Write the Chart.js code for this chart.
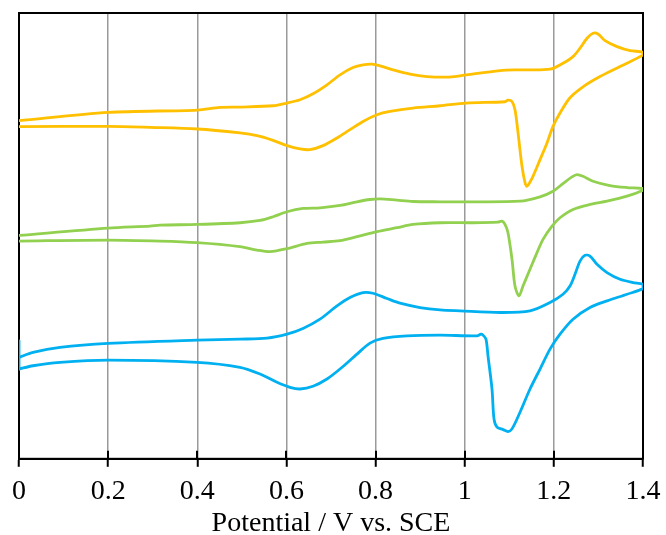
<!DOCTYPE html>
<html>
<head>
<meta charset="utf-8">
<script src="https://cdn.jsdelivr.net/npm/chart.js@4.4.0/dist/chart.umd.min.js"></script>
<style>
  html, body { margin: 0; padding: 0; background: #fff; }
  #wrap { width: 666px; height: 535px; }
</style>
</head>
<body>
<div id="wrap"><canvas id="c" width="666" height="535"></canvas></div>
<script>
// Potential (V vs. SCE) and current (arbitrary units); each loop: forward scan then reverse scan
const yellowV = [0, 0.2, 0.4, 0.451, 0.4958, 0.5699, 0.6013, 0.6305, 0.6596, 0.691, 0.7202, 0.7494, 0.7718, 0.792, 0.8099, 0.8391, 0.8773, 0.9154, 0.9603, 0.9894, 1.079, 1.124, 1.1914, 1.2205, 1.243, 1.2587, 1.2744, 1.2878, 1.299, 1.3148, 1.3417, 1.3708, 1.4,
                 1.4, 1.3484, 1.3035, 1.2654, 1.2362, 1.2138, 1.1981, 1.1846, 1.169, 1.1532, 1.1398, 1.1353, 1.1285, 1.1196, 1.1128, 1.1061, 1.0971, 1.0904, 1.003, 0.9446, 0.884, 0.8324, 0.8032, 0.7718, 0.7426, 0.7135, 0.6821, 0.6529, 0.6305, 0.6013, 0.5699, 0.534, 0.4958, 0.4, 0.294, 0.2, 0];
const yellowI = [339, 347.3, 349.7, 352.3, 352.7, 354, 356.7, 360, 366, 375, 385, 392.3, 395, 395.7, 394, 390, 385.7, 383.3, 382.7, 384, 389.3, 390, 390.7, 396.7, 403.3, 411.7, 421.7, 426.7, 426, 419.3, 413.3, 409.3, 407.7,
                 405, 393.3, 383.3, 373, 362, 346.7, 333.3, 316.7, 300, 283.3, 273.3, 277, 293.3, 327, 350, 358.3, 359.7, 358, 356.7, 354, 351.7, 348.3, 345, 338.3, 330, 321.7, 314, 310, 310.7, 314, 319.3, 324, 326.7, 330.7, 332.3, 333.3, 333];

const greenV = [0, 0.2, 0.294, 0.316, 0.4, 0.4958, 0.5407, 0.5699, 0.6013, 0.6372, 0.6753, 0.7202, 0.7583, 0.7875, 0.8099, 0.8481, 0.884, 0.9446, 0.9894, 1.1241, 1.169, 1.1981, 1.2205, 1.2407, 1.2519, 1.2654, 1.2878, 1.3259, 1.3641, 1.4,
                1.4, 1.3641, 1.3192, 1.2811, 1.243, 1.2138, 1.1959, 1.1757, 1.1622, 1.1465, 1.1308, 1.1218, 1.1128, 1.1061, 1.0971, 1.0904, 1.0836, 1.0746, 1.0186, 0.9446, 0.884, 0.8481, 0.8032, 0.7583, 0.7202, 0.6821, 0.6462, 0.6013, 0.5632, 0.534, 0.4958, 0.4, 0.316, 0.2, 0];
const greenI = [224, 231.3, 233.3, 234.3, 235, 236.7, 239, 242.7, 247.7, 251, 251.7, 254, 257.7, 260, 260.7, 259.3, 258, 257.7, 257.7, 258.3, 262.7, 268.3, 276, 282.7, 285, 283.3, 278.3, 274, 272, 271,
                269.3, 263.3, 258.3, 255, 250, 241.7, 233.3, 220, 206.7, 190, 173.3, 163.3, 173.3, 200, 226.7, 235, 238.3, 237.3, 236.7, 236.7, 235, 231.7, 227.7, 222.7, 218.7, 217.3, 216, 210.7, 207.7, 209.3, 212.7, 216.7, 218.3, 219.3, 218.3];

const blueV = [0, 0.0314, 0.092, 0.2, 0.4, 0.4958, 0.5564, 0.6013, 0.6372, 0.6753, 0.7135, 0.7426, 0.7718, 0.7942, 0.8257, 0.8548, 0.8997, 0.9446, 0.9894, 1.0792, 1.1465, 1.1914, 1.2205, 1.2362, 1.2474, 1.2587, 1.2699, 1.2811, 1.2968, 1.3192, 1.3484, 1.3776, 1.4,
               1.4, 1.3641, 1.3192, 1.2811, 1.243, 1.2138, 1.1914, 1.169, 1.1465, 1.1241, 1.1061, 1.0971, 1.0859, 1.0724, 1.0657, 1.0612, 1.0522, 1.0477, 1.041, 1.0366, 1.0276, 0.9446, 0.8705, 0.8167, 0.7875, 0.7583, 0.7202, 0.691, 0.6596, 0.6305, 0.608, 0.5789, 0.5407, 0.4958, 0.4, 0.2, 0.092, 0.0314, 0];
const blueI = [101.7, 106.7, 111.7, 115.7, 119, 120, 121, 125, 130.7, 140, 153.3, 161.7, 166.7, 166, 160.7, 156, 151.7, 149.3, 148.3, 146.7, 148.3, 156.7, 165, 173.3, 185, 198.3, 204, 203.3, 195, 186.7, 180, 176.7, 175,
               170.7, 165, 158.3, 151.7, 140, 125, 110, 90, 70, 46.7, 30, 27.3, 29.3, 31.7, 40, 70, 103.3, 120, 124, 125, 123.3, 124, 123.3, 120.7, 116, 105, 90, 80, 72.7, 70, 71.7, 76.7, 85, 91.7, 96.7, 99, 96.7, 93.3, 90];
// initial potential step of the blue trace at 0 V
const blueStepV = [0, 0];
const blueStepI = [90, 118.3];

const xTickLabels = ['0', '0.2', '0.4', '0.6', '0.8', '1', '1.2', '1.4'];
const xTitle = 'Potential / V vs. SCE';

function pts(v, i) { return v.map((x, k) => ({ x: x, y: i[k] })); }

const serif = "'Liberation Serif', 'Times New Roman', 'DejaVu Serif', serif";

const frame = {
  id: 'frame',
  beforeDatasetsDraw(chart) {
    const { ctx, chartArea: a, scales } = chart;
    ctx.save();
    ctx.strokeStyle = '#000';
    ctx.lineWidth = 2;
    ctx.strokeRect(a.left, a.top, a.right - a.left, a.bottom - a.top);
    const xs = scales.x;
    ctx.beginPath();
    xs.ticks.forEach((t, k) => {
      const px = Math.round(xs.getPixelForTick(k));
      ctx.moveTo(px, a.bottom);
      ctx.lineTo(px, a.bottom - 8);
    });
    ctx.stroke();
    ctx.restore();
  }
};

new Chart(document.getElementById('c'), {
  type: 'scatter',
  data: {
    datasets: [
      { data: pts(yellowV, yellowI), borderColor: '#FFC000', tension: 0.3 },
      { data: pts(greenV, greenI), borderColor: '#92D050', tension: 0.3 },
      { data: pts(blueV, blueI), borderColor: '#00B0F0', tension: 0.3 },
      { data: pts(blueStepV, blueStepI), borderColor: '#00B0F0', tension: 0 }
    ].map(d => Object.assign(d, { showLine: true, pointRadius: 0, borderWidth: 2.8, fill: false, borderCapStyle: 'round', borderJoinStyle: 'round' }))
  },
  options: {
    responsive: false,
    animation: false,
    events: [],
    layout: { padding: { left: 19, right: 23, top: 13, bottom: 0 } },
    plugins: { legend: { display: false }, tooltip: { enabled: false } },
    scales: {
      x: {
        type: 'linear', min: 0, max: 1.4,
        afterFit: (s) => { s.paddingLeft = 0; s.paddingRight = 0; },
        ticks: {
          stepSize: 0.2, color: '#000', padding: 8,
          font: { family: serif, size: 28 },
          callback: (v, k) => xTickLabels[k],
          maxRotation: 0, autoSkip: false
        },
        grid: { color: '#9a9a9a', lineWidth: 1.5, tickColor: '#000', tickWidth: 2, tickLength: 8 },
        border: { color: '#000', width: 2 },
        title: { display: true, text: xTitle, color: '#000', font: { family: serif, size: 28 }, padding: { top: -10, bottom: -5 } }
      },
      y: { display: false, min: 0, max: 447 }
    }
  },
  plugins: [frame]
});
</script>
</body>
</html>
